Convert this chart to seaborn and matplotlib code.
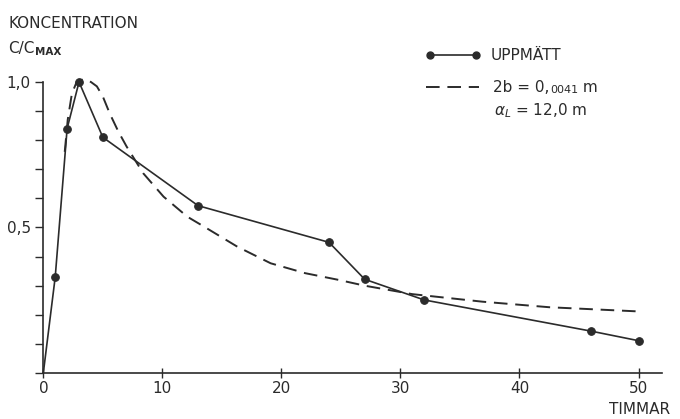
import matplotlib
matplotlib.use("Agg")
import matplotlib.pyplot as plt
import seaborn as sns
import pandas as pd
import numpy as np

# Measured data (UPPMÄTT)
hours_meas = [0, 1, 2, 3, 5, 13, 24, 27, 32, 46, 50]
conc_meas = [0.0, 0.33, 0.84, 1.0, 0.81, 0.575, 0.449, 0.322, 0.251, 0.144, 0.111]

# Model curve (2b = 0,0041 m, alpha_L = 12,0 m)
hours_model = [1.8, 2.05, 2.4, 2.8, 3.4, 4.0, 4.5, 5.0, 5.6, 6.3, 7.0, 8.4, 10.1, 12.1,
               13.5, 16.3, 19.1, 22.0, 24.8, 27.0, 31.0, 36.9, 42.5, 50.3]
conc_model = [0.76, 0.87, 0.96, 1.0, 1.01, 1.0, 0.985, 0.95, 0.89, 0.83, 0.778, 0.686,
              0.606, 0.537, 0.503, 0.434, 0.377, 0.343, 0.32, 0.30, 0.271, 0.245,
              0.226, 0.211]

xticks = [0, 10, 20, 30, 40, 50]
yticks_major = [0.5, 1.0]
ytick_labels = ["0,5", "1,0"]

df_meas = pd.DataFrame({"t": hours_meas, "c": conc_meas})
df_model = pd.DataFrame({"t": hours_model, "c": conc_model})

sns.set_style("ticks")
plt.rcParams["font.family"] = ["DejaVu Sans"]
ink = "#2b2b2b"

fig = plt.figure(figsize=(6.8, 4.19), dpi=100)
ax = fig.add_axes([0.0637, 0.1098, 0.9103, 0.6945])

sns.lineplot(data=df_model, x="t", y="c", ax=ax, color=ink, lw=1.4,
             linestyle=(0, (7, 4)), clip_on=False, sort=False)
sns.lineplot(data=df_meas, x="t", y="c", ax=ax, color=ink, lw=1.2,
             marker="o", markersize=5.5, markeredgecolor=ink, clip_on=False, sort=False,
             markevery=list(range(1, len(hours_meas))))

ax.set_xlim(0, 52)
ax.set_ylim(0, 1.0)
ax.set_xlabel("")
ax.set_ylabel("")
for s in ["top", "right"]:
    ax.spines[s].set_visible(False)
for s in ["left", "bottom"]:
    ax.spines[s].set_color(ink)
    ax.spines[s].set_linewidth(1.2)

ax.set_xticks(xticks)
ax.set_xticklabels([str(v) for v in xticks], fontsize=11, color=ink)
ax.tick_params(axis="x", direction="inout", length=7, width=1.0, color=ink, pad=2)
ax.set_yticks(yticks_major)
ax.set_yticklabels(ytick_labels, fontsize=11, color=ink)
ax.set_yticks(np.arange(0, 1.01, 0.1), minor=True)
ax.tick_params(axis="y", which="both", direction="out", length=6, width=1.0, color=ink, pad=3)

fig.canvas.draw()
renderer = fig.canvas.get_renderer()


def chain(prev, s, size, dy=0.0, gap=0.0, **kw):
    bb = prev.get_window_extent(renderer).transformed(fig.transFigure.inverted())
    x = bb.x1 + gap
    y = prev.get_position()[1] + dy
    t = fig.text(x, y, s, fontsize=size, color=ink, ha="left", va="center", **kw)
    return t


# Titles
fig.text(0.012, 0.945, "KONCENTRATION", fontsize=11, color=ink, ha="left", va="center")
t = fig.text(0.012, 0.885, "C/C", fontsize=11, color=ink, ha="left", va="center")
chain(t, "MAX", 7.5, dy=-0.008, gap=0.001, fontweight="bold")
fig.text(0.985, 0.022, "TIMMAR", fontsize=11, color=ink, ha="right", va="center")

# Legend (drawn manually to match)
ly1 = 0.868
fig.lines.append(plt.Line2D([0.632, 0.700], [ly1, ly1], transform=fig.transFigure,
                            color=ink, lw=1.2, marker="o", markersize=5, markevery=[0, 1]))
fig.text(0.722, ly1, "UPPMÄTT", fontsize=11, color=ink, ha="left", va="center")
ly2 = 0.792
fig.lines.append(plt.Line2D([0.627, 0.705], [ly2, ly2], transform=fig.transFigure,
                            color=ink, lw=1.4, linestyle=(0, (7, 4))))
t = fig.text(0.725, ly2, "2b = 0,", fontsize=11, color=ink, ha="left", va="center")
t = chain(t, "0041", 8, dy=-0.006, gap=0.001)
chain(t, " m", 11, dy=0.006, gap=0.0)
ly3 = 0.735
fig.text(0.727, ly3, r"$\alpha_L$ = 12,0 m", fontsize=11, color=ink, ha="left", va="center")

fig.savefig("out.png", dpi=100)
